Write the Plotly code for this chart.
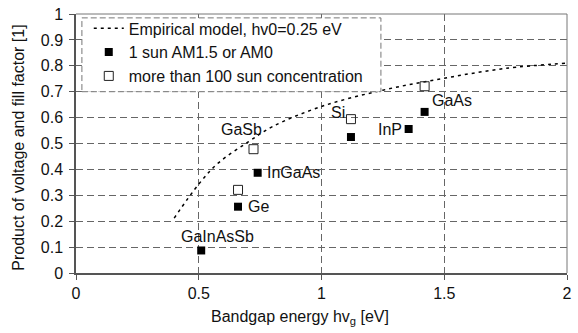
import plotly.graph_objects as go

# ---- data ----
model_eg = [0.40, 0.50, 0.58, 0.70, 0.80, 1.00, 1.25, 1.50, 1.75, 2.00]
model_vff = [0.212, 0.343, 0.425, 0.505, 0.565, 0.643, 0.706, 0.752, 0.790, 0.810]

sun1_names = ["GaInAsSb", "Ge", "InGaAs", "Si", "InP", "GaAs"]
sun1_eg = [0.51, 0.66, 0.74, 1.12, 1.355, 1.42]
sun1_vff = [0.087, 0.256, 0.387, 0.525, 0.556, 0.622]

conc_names = ["Ge", "GaSb", "Si", "GaAs"]
conc_eg = [0.66, 0.723, 1.12, 1.42]
conc_vff = [0.321, 0.478, 0.594, 0.721]

x_ticks = [0, 0.5, 1, 1.5, 2]
y_ticks = [0, 0.1, 0.2, 0.3, 0.4, 0.5, 0.6, 0.7, 0.8, 0.9, 1]

# label placement (style): (series, name, xanchor, xshift, yshift)
label_style = [
    ("sun1", "GaInAsSb", "center", 16, 14),
    ("sun1", "Ge", "left", 8, 0),
    ("sun1", "InGaAs", "left", 7, 0),
    ("conc", "GaSb", "right", 10, 20),
    ("conc", "Si", "right", -4, 7),
    ("sun1", "InP", "right", -5, 0),
    ("conc", "GaAs", "left", 5, -14),
]

FONT = "Liberation Sans, Arial, sans-serif"
FS = 16
fig = go.Figure()

fig.add_trace(go.Scatter(
    x=model_eg, y=model_vff, mode="lines", line_shape="spline",
    line=dict(color="black", width=1.5, dash="3px,4px"),
    name="Empirical model, hv0=0.25 eV"))
fig.add_trace(go.Scatter(
    x=sun1_eg, y=sun1_vff, mode="markers",
    marker=dict(symbol="square", size=8, color="black"),
    name="1 sun AM1.5 or AM0"))
fig.add_trace(go.Scatter(
    x=conc_eg, y=conc_vff, mode="markers",
    marker=dict(symbol="square-open", size=9, color="#222", line=dict(width=1)),
    name="more than 100 sun concentration"))

annotations = []
for series, name, xa, xs, ys in label_style:
    if series == "sun1":
        i = sun1_names.index(name); px, py = sun1_eg[i], sun1_vff[i]
    else:
        i = conc_names.index(name); px, py = conc_eg[i], conc_vff[i]
    annotations.append(dict(x=px, y=py, xref="x", yref="y", text=name, showarrow=False,
                            xanchor=xa, yanchor="middle", xshift=xs, yshift=ys,
                            font=dict(size=FS, color="#111", family=FONT)))

annotations.append(dict(x=0.914, y=-0.17, xref="x", yref="paper",
                        text="Bandgap energy hv<sub>g</sub> [eV]", showarrow=False,
                        xanchor="center", yanchor="middle",
                        font=dict(size=FS, color="#111", family=FONT)))
annotations.append(dict(x=-0.117, y=0.482, xref="paper", yref="paper",
                        text="Product of voltage and fill factor [1]", showarrow=False,
                        textangle=-90, xanchor="center", yanchor="middle",
                        font=dict(size=FS, color="#111", family=FONT)))

shapes = [
    # top/right frame
    dict(type="line", xref="paper", yref="paper", x0=0, x1=1, y0=1, y1=1,
         line=dict(color="#777", width=1), layer="above"),
    dict(type="line", xref="paper", yref="paper", x0=1, x1=1, y0=0, y1=1,
         line=dict(color="#777", width=1), layer="above"),
    # legend box
    dict(type="rect", xref="paper", yref="paper", x0=0.012, x1=0.621, y0=0.700, y1=0.985,
         fillcolor="white", line=dict(color="#777", width=1, dash="6px,3px"), layer="above"),
]

fig.update_layout(
    width=578, height=333,
    margin=dict(l=76, r=8, t=6, b=60),
    paper_bgcolor="white", plot_bgcolor="white",
    font=dict(family=FONT, size=FS, color="#111"),
    showlegend=True,
    legend=dict(x=0.026, y=1.01, xanchor="left", yanchor="top",
                bgcolor="rgba(0,0,0,0)", borderwidth=0,
                font=dict(size=FS, family=FONT, color="#111")),
    annotations=annotations, shapes=shapes,
)
fig.update_xaxes(range=[0, 2], tickvals=x_ticks, ticktext=[f"{v:g}" for v in x_ticks],
                 showgrid=True, gridcolor="#666", griddash="7px,4px", gridwidth=1,
                 showline=True, linecolor="#555", linewidth=1.5, zeroline=False,
                 ticks="outside", ticklen=5, tickcolor="#555", tickwidth=1,
                 ticklabeloverflow="allow",
                 tickfont=dict(size=FS, color="#111"), fixedrange=True)
fig.update_yaxes(range=[0, 1], tickvals=y_ticks, ticktext=[f"{v:g}" for v in y_ticks],
                 showgrid=True, gridcolor="#666", griddash="7px,4px", gridwidth=1,
                 showline=True, linecolor="#555", linewidth=1.5, zeroline=False,
                 ticks="outside", ticklen=5, tickcolor="#555", tickwidth=1,
                 ticklabelstandoff=3, ticklabeloverflow="allow",
                 tickfont=dict(size=FS, color="#111"), fixedrange=True)

fig.write_html("out.html")
